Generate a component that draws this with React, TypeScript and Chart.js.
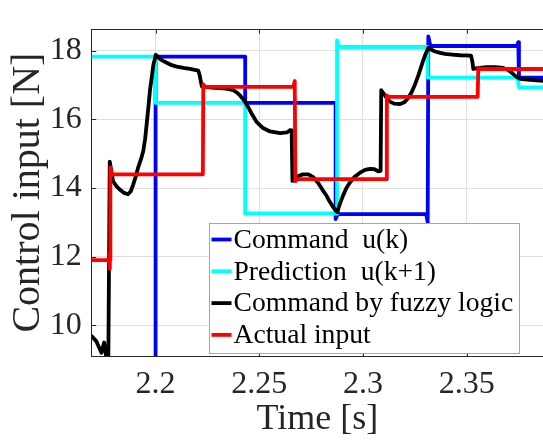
import React, { useEffect, useRef } from "react";
import { Chart, registerables } from "chart.js";

Chart.register(...registerables);

// ---- axis ticks ----
const xTicks = [2.2, 2.25, 2.3, 2.35];
const xTickLabels = ["2.2", "2.25", "2.3", "2.35"];
const yTicks = [10, 12, 14, 16, 18];
const yTickLabels = ["10", "12", "14", "16", "18"];

// ---- series names ----
const seriesNames = [
  "Command  u(k)",
  "Prediction  u(k+1)",
  "Command by fuzzy logic",
  "Actual input",
];

// ---- Command u(k) (blue) ----
const commandT = [2.165, 2.2, 2.2, 2.2432, 2.2432, 2.2868, 2.2868, 2.2878, 2.3305, 2.3312, 2.3315, 2.3325, 2.3742, 2.3749, 2.3752, 2.39];
const commandU = [8.0, 8.0, 17.83, 17.83, 16.48, 16.48, 13.1, 13.24, 13.24, 13.0, 18.42, 18.14, 18.14, 18.25, 17.22, 17.22];

// ---- Prediction u(k+1) (cyan) ----
const predictionT = [2.165, 2.2, 2.2, 2.2432, 2.2432, 2.2875, 2.2875, 2.2885, 2.3312, 2.3312, 2.3745, 2.3752, 2.39];
const predictionU = [17.83, 17.83, 16.48, 16.48, 13.26, 13.26, 18.3, 18.11, 18.11, 17.22, 17.22, 16.93, 16.93];

// ---- Command by fuzzy logic (black) ----
const fuzzyT = [
  2.1691, 2.1713, 2.1739, 2.1752, 2.1764, 2.1772, 2.1779, 2.1795, 2.1812, 2.1829,
  2.1848, 2.1867, 2.188, 2.1892, 2.1905, 2.1916, 2.193, 2.1941, 2.195, 2.1958,
  2.1966, 2.1973, 2.1982, 2.1989, 2.2001, 2.2012, 2.2022, 2.2038, 2.2054, 2.2078,
  2.2102, 2.2135, 2.2166, 2.2206, 2.2212, 2.2223, 2.2287, 2.234, 2.2375, 2.2395,
  2.2407, 2.2425, 2.244, 2.2465, 2.2488, 2.2518, 2.2552, 2.26, 2.2633, 2.2649,
  2.2656, 2.266, 2.268, 2.271, 2.2737, 2.276, 2.2784, 2.2805, 2.2822, 2.284,
  2.2856, 2.287, 2.2877, 2.2886, 2.2904, 2.292, 2.2938, 2.296, 2.2986, 2.301,
  2.3034, 2.3055, 2.3074, 2.3085, 2.3088, 2.31, 2.3115, 2.313, 2.315, 2.3179,
  2.32, 2.3217, 2.3235, 2.3251, 2.3268, 2.3285, 2.33, 2.3315, 2.333, 2.3348,
  2.3372, 2.3396, 2.343, 2.3468, 2.3521, 2.3527, 2.3532, 2.356, 2.3589, 2.364,
  2.3676, 2.37, 2.3719, 2.374, 2.3758, 2.3806, 2.387,
];
const fuzzyU = [
  9.69, 9.55, 9.2, 9.5, 9.0, 8.8, 14.77, 14.2, 14.05, 13.95,
  13.86, 13.82, 13.9, 14.1, 14.35, 14.6, 14.85, 15.09, 15.45, 15.92,
  16.4, 16.85, 17.25, 17.58, 17.88, 17.82, 17.76, 17.7, 17.65, 17.58,
  17.54, 17.5, 17.47, 17.42, 17.3, 16.96, 16.92, 16.9, 16.85, 16.77,
  16.7, 16.57, 16.43, 16.15, 15.92, 15.75, 15.65, 15.6, 15.62, 15.69,
  15.68, 14.21, 14.33, 14.4, 14.4, 14.32, 14.15, 13.95, 13.8, 13.6,
  13.45, 13.33, 13.3, 13.5, 13.78, 14.0, 14.17, 14.33, 14.45, 14.53,
  14.56, 14.55, 14.49, 14.5, 16.85, 16.75, 16.62, 16.52, 16.46, 16.45,
  16.5, 16.62, 16.8, 17.02, 17.3, 17.62, 17.88, 18.09, 18.03, 17.98,
  17.94, 17.91, 17.89, 17.87, 17.86, 17.7, 17.47, 17.5, 17.52, 17.52,
  17.5, 17.44, 17.35, 17.24, 17.18, 17.15, 17.12,
];

// ---- Actual input (red) ----
const actualT = [2.165, 2.1776, 2.1779, 2.178, 2.1782, 2.1782, 2.179, 2.2228, 2.223, 2.2238, 2.2665, 2.2671, 2.2674, 2.2682, 2.3112, 2.3115, 2.3122, 2.3553, 2.3556, 2.3563, 2.39];
const actualU = [11.9, 11.9, 11.65, 12.1, 11.9, 14.6, 14.4, 14.4, 17.02, 16.95, 16.95, 17.12, 14.2, 14.26, 14.26, 16.7, 16.66, 16.66, 17.5, 17.47, 17.47];

const FONT = "'Liberation Serif', 'Times New Roman', serif";
const TEXT = "#262626";

function pts(t: number[], u: number[]) {
  return t.map((x, i) => ({ x, y: u[i] }));
}

const colors = ["#0000ff", "#00ffff", "#000000", "#ff0000"];

const boxPlugin = {
  id: "matlabBox",
  beforeDatasetsDraw(chart: any) {
    const { ctx, chartArea } = chart;
    const { left, right, top, bottom } = chartArea;
    const xs = chart.scales.x;
    const ys = chart.scales.y;
    ctx.save();
    ctx.strokeStyle = TEXT;
    ctx.lineWidth = 1;
    ctx.beginPath();
    const ty = Math.round(top) + 0.5;
    ctx.moveTo(left, ty);
    ctx.lineTo(right, ty);
    for (const v of xTicks) {
      const px = Math.round(xs.getPixelForValue(v)) + 0.5;
      ctx.moveTo(px, bottom);
      ctx.lineTo(px, bottom - 4.5);
      ctx.moveTo(px, top);
      ctx.lineTo(px, top + 4.5);
    }
    for (const v of yTicks) {
      const py = Math.round(ys.getPixelForValue(v)) + 0.5;
      ctx.moveTo(left, py);
      ctx.lineTo(left + 4.5, py);
    }
    ctx.stroke();
    ctx.restore();
  },
};

const legendPlugin = {
  id: "insideLegend",
  afterDatasetsDraw(chart: any) {
    const ctx = chart.ctx;
    const bx = 209.5, by = 223.5, bw = 310, bh = 130;
    ctx.save();
    ctx.fillStyle = "#ffffff";
    ctx.fillRect(bx, by, bw, bh);
    ctx.strokeStyle = "#a6a6a6";
    ctx.lineWidth = 1;
    ctx.strokeRect(bx, by, bw, bh);
    ctx.font = `27.6px ${FONT}`;
    ctx.textBaseline = "middle";
    ctx.textAlign = "left";
    seriesNames.forEach((name, i) => {
      const cy = 240.5 + i * 31.8;
      ctx.strokeStyle = colors[i];
      ctx.lineWidth = 3.8;
      ctx.beginPath();
      ctx.moveTo(211.5, cy - 1);
      ctx.lineTo(231.5, cy - 1);
      ctx.stroke();
      ctx.fillStyle = "#000000";
      ctx.fillText(name, 233.5, cy);
    });
    ctx.restore();
  },
};

export default function App() {
  const ref = useRef<HTMLCanvasElement | null>(null);

  useEffect(() => {
    if (!ref.current) return;
    const mk = (i: number, t: number[], u: number[], order: number) => ({
      label: seriesNames[i],
      data: pts(t, u),
      borderColor: colors[i],
      backgroundColor: colors[i],
      borderWidth: 3.8,
      pointRadius: 0,
      tension: 0,
      fill: false,
      order,
      clip: 0,
      borderJoinStyle: "round" as const,
      borderCapStyle: "round" as const,
    });
    const chart = new Chart(ref.current, {
      type: "line",
      data: {
        datasets: [
          mk(0, commandT, commandU, 3),
          mk(1, predictionT, predictionU, 2),
          mk(2, fuzzyT, fuzzyU, 1),
          mk(3, actualT, actualU, 0),
        ],
      },
      options: {
        animation: false,
        responsive: false,
        maintainAspectRatio: false,
        layout: { padding: { top: 12.3, right: 0, bottom: 0, left: 0 } },
        plugins: {
          legend: { display: false },
          tooltip: { enabled: false },
        },
        scales: {
          x: {
            type: "linear",
            min: 2.1692,
            max: 2.3868,
            afterBuildTicks: (s: any) => {
              s.ticks = xTicks.map((v) => ({ value: v }));
            },
            afterFit: (s: any) => {
              s.height = 92;
            },
            ticks: {
              callback: (_v: any, i: number) => xTickLabels[i],
              font: { family: FONT, size: 32 },
              color: TEXT,
              padding: 9,
              maxRotation: 0,
              autoSkip: false,
            },
            grid: { color: "#dfdfdf", drawTicks: false, lineWidth: 1 },
            border: { display: true, color: TEXT, width: 1 },
            title: {
              display: true,
              text: "Time [s]",
              font: { family: FONT, size: 36 },
              color: TEXT,
              padding: { top: 0, bottom: 7 },
            },
          },
          y: {
            type: "linear",
            min: 9.108,
            max: 18.629,
            afterBuildTicks: (s: any) => {
              s.ticks = yTicks.map((v) => ({ value: v }));
            },
            afterFit: (s: any) => {
              s.width = 91.7;
            },
            ticks: {
              callback: (_v: any, i: number) => yTickLabels[i],
              font: { family: FONT, size: 32 },
              color: TEXT,
              padding: 10,
              autoSkip: false,
            },
            grid: { color: "#dfdfdf", drawTicks: false, lineWidth: 1 },
            border: { display: true, color: TEXT, width: 1 },
            title: {
              display: true,
              text: "Control input [N]",
              font: { family: FONT, size: 40 },
              color: TEXT,
              padding: { top: 4, bottom: 0 },
            },
          },
        },
      },
      plugins: [boxPlugin, legendPlugin],
    });
    return () => chart.destroy();
  }, []);

  return (
    <div style={{ position: "absolute", left: 0, top: 0, width: 543, height: 448, background: "#fff" }}>
      <canvas ref={ref} width={543} height={448} style={{ display: "block" }} />
    </div>
  );
}
